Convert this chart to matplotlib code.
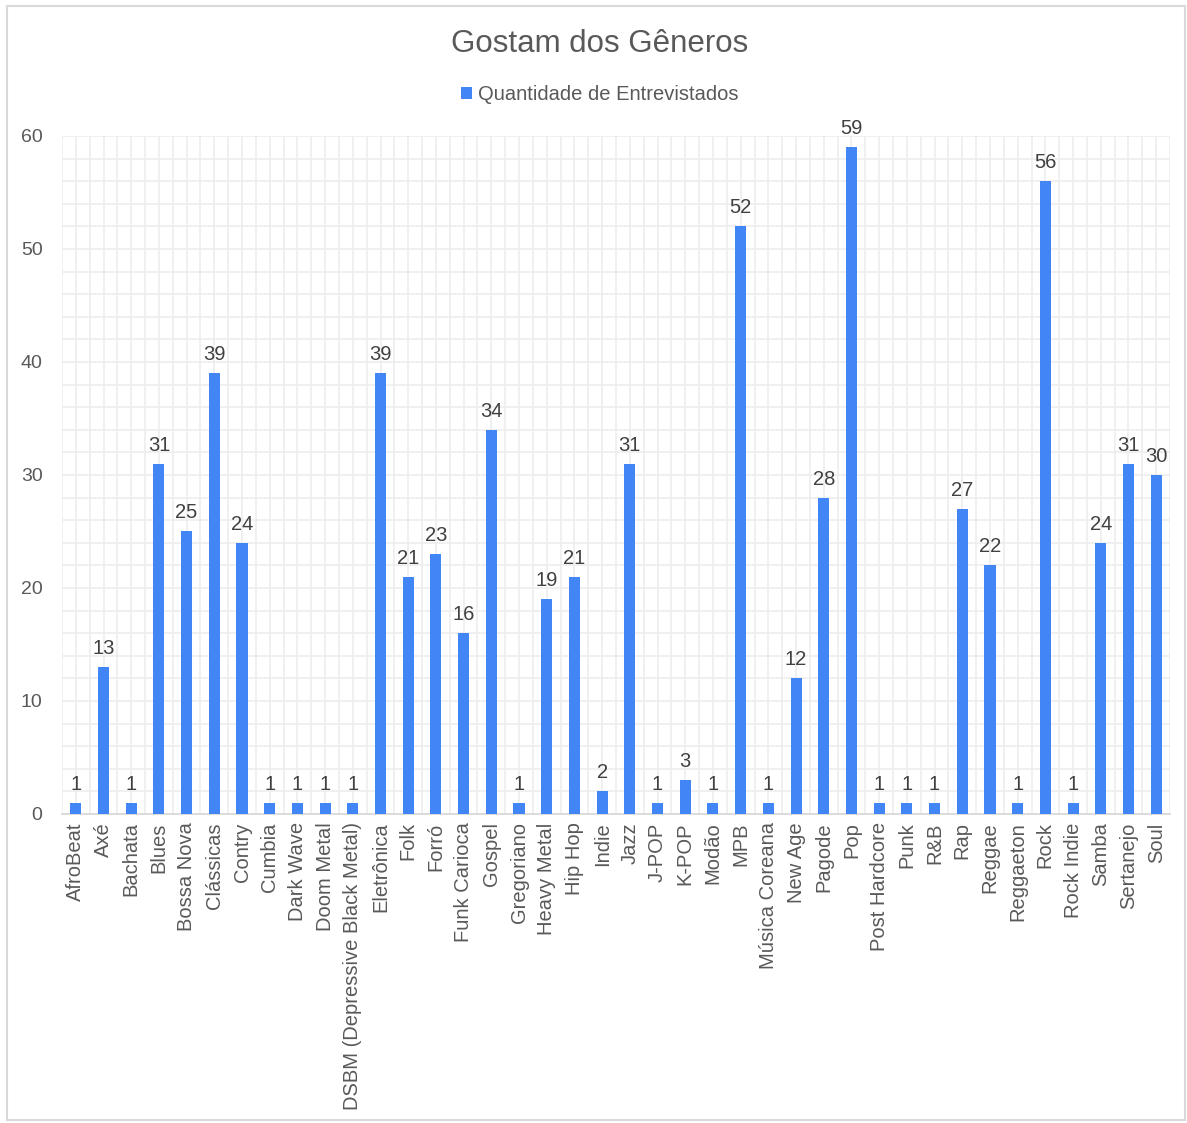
import matplotlib.pyplot as plt
import numpy as np
from matplotlib.patches import Rectangle

plt.rcParams["font.family"] = ["Liberation Sans", "DejaVu Sans"]

generos = [
    "AfroBeat", "Axé", "Bachata", "Blues", "Bossa Nova", "Clássicas", "Contry",
    "Cumbia", "Dark Wave", "Doom Metal", "DSBM (Depressive Black Metal)",
    "Eletrônica", "Folk", "Forró", "Funk Carioca", "Gospel", "Gregoriano",
    "Heavy Metal", "Hip Hop", "Indie", "Jazz", "J-POP", "K-POP", "Modão", "MPB",
    "Música Coreana", "New Age", "Pagode", "Pop", "Post Hardcore", "Punk", "R&B",
    "Rap", "Reggae", "Reggaeton", "Rock", "Rock Indie", "Samba", "Sertanejo", "Soul",
]
entrevistados = [
    1, 13, 1, 31, 25, 39, 24, 1, 1, 1, 1, 39, 21, 23, 16, 34, 1, 19, 21, 2,
    31, 1, 3, 1, 52, 1, 12, 28, 59, 1, 1, 1, 27, 22, 1, 56, 1, 24, 31, 30,
]

azul = "#4285f4"
cinza_txt = "#595959"
grade = "#ededed"

fig = plt.figure(figsize=(11.87, 11.23), dpi=100)
ax = fig.add_axes([0.0522, 0.2752, 0.9335, 0.6037])

x = np.arange(len(generos))
bars = ax.bar(x, entrevistados, width=0.4, color=azul, zorder=3,
              label="Quantidade de Entrevistados")

for b, v in zip(bars, entrevistados):
    ax.text(b.get_x() + b.get_width() / 2, v + 0.8, str(v), ha="center",
            va="bottom", fontsize=14.5, color="#404040")

ax.set_xlim(-0.5, len(generos) - 0.5)
ax.set_ylim(0, 60)
ax.set_yticks(np.arange(0, 61, 10))
ax.set_yticks(np.arange(0, 61, 2), minor=True)
ax.set_xticks(x)
ax.set_xticks(np.arange(-0.5, len(generos), 0.5), minor=True)
ax.set_xticklabels(generos, rotation=90, fontsize=14.5, color=cinza_txt)
ax.tick_params(axis="y", labelsize=14, labelcolor=cinza_txt, length=0, pad=14)
ax.tick_params(axis="x", length=0, pad=6)
ax.tick_params(which="minor", length=0)
ax.grid(True, which="both", color=grade, linewidth=1.2, zorder=0)
ax.set_axisbelow(True)
for s in ["top", "right", "left"]:
    ax.spines[s].set_visible(False)
ax.spines["bottom"].set_color("#d9d9d9")
ax.spines["bottom"].set_linewidth(1.3)

fig.text(0.505, 0.961, "Gostam dos Gêneros", ha="center", va="center",
         fontsize=22.5, color=cinza_txt)
ax.legend(loc="center", bbox_to_anchor=(0.505, 0.916),
          bbox_transform=fig.transFigure, frameon=False, fontsize=14.5,
          handlelength=0.55, handleheight=0.55, handletextpad=0.3,
          labelcolor=cinza_txt)

fig.patches.append(Rectangle((0.006, 0.003), 0.992, 0.992,
                             transform=fig.transFigure, fill=False,
                             edgecolor="#d9d9d9", linewidth=1.5))

fig.savefig("out.png", dpi=100)
